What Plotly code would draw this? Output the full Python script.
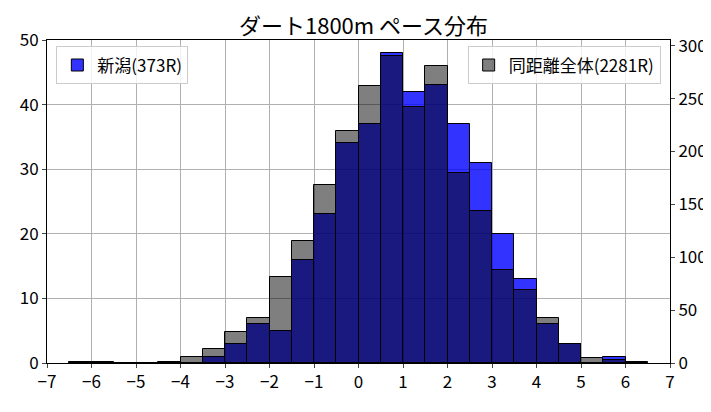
import plotly.graph_objects as go

bin_left = [-6.5 + 0.5 * i for i in range(26)]
niigata = [0, 0, 0, 0, 0, 0, 1, 3, 6, 5, 16, 23, 34, 37, 48, 42, 43, 37, 31, 20, 13, 6, 3, 0, 1, 0]
overall = [1, 1, 0, 0, 1, 6, 13, 29, 43, 81, 115, 168, 219, 262, 290, 242, 281, 180, 144, 88, 69, 43, 18, 5, 3, 1]
centers = [b + 0.25 for b in bin_left]
F = "Noto Sans CJK JP"

fig = go.Figure()
fig.add_trace(go.Bar(x=centers, y=niigata, width=0.5, name="新潟(373R)", showlegend=True,
                     marker=dict(color="rgba(0,0,255,0.8)", line=dict(color="black", width=1)),
                     legend="legend"))
fig.add_trace(go.Bar(x=centers, y=overall, width=0.5, name="同距離全体(2281R)", yaxis="y2", showlegend=True,
                     marker=dict(color="rgba(0,0,0,0.5)", line=dict(color="black", width=1)),
                     legend="legend2"))
ax = dict(showline=True, linecolor="black", linewidth=1, ticks="outside", ticklen=4,
          tickfont=dict(size=17, color="black"), zeroline=False)
fig.update_layout(
    width=711, height=412, plot_bgcolor="white", paper_bgcolor="white",
    font=dict(family=F, color="black"), barmode="overlay", bargap=0, showlegend=True,
    margin=dict(l=38, r=48, t=32, b=57),
    title=dict(text="ダート1800m ペース分布", x=0.5, xanchor="center", y=0.975, yanchor="top",
               font=dict(size=22)),
    xaxis=dict(range=[-7, 7], dtick=1, mirror=True, showgrid=True, gridcolor="#b0b0b0", **ax),
    yaxis=dict(range=[0, 50], dtick=10, showgrid=True, gridcolor="#b0b0b0", **ax),
    yaxis2=dict(range=[0, 305.5], dtick=50, overlaying="y", side="right", showgrid=False, **ax),
    legend=dict(x=0.015, y=0.98, xanchor="left", yanchor="top", bgcolor="rgba(255,255,255,0.8)",
                bordercolor="#cccccc", borderwidth=1, font=dict(size=17)),
    legend2=dict(x=0.985, y=0.98, xanchor="right", yanchor="top", bgcolor="rgba(255,255,255,0.8)",
                 bordercolor="#cccccc", borderwidth=1, font=dict(size=17)),
    annotations=[
        dict(text="(←スローペース)", x=-5.15, y=-0.14, xref="x", yref="paper", yanchor="top",
             showarrow=False, font=dict(size=17)),
        dict(text="後半-前半(秒)", x=0, y=-0.14, xref="x", yref="paper", yanchor="top",
             showarrow=False, font=dict(size=17)),
        dict(text="(ハイペース→)", x=5.4, y=-0.14, xref="x", yref="paper", yanchor="top",
             showarrow=False, font=dict(size=17)),
    ],
)
fig.write_html("out.html")
